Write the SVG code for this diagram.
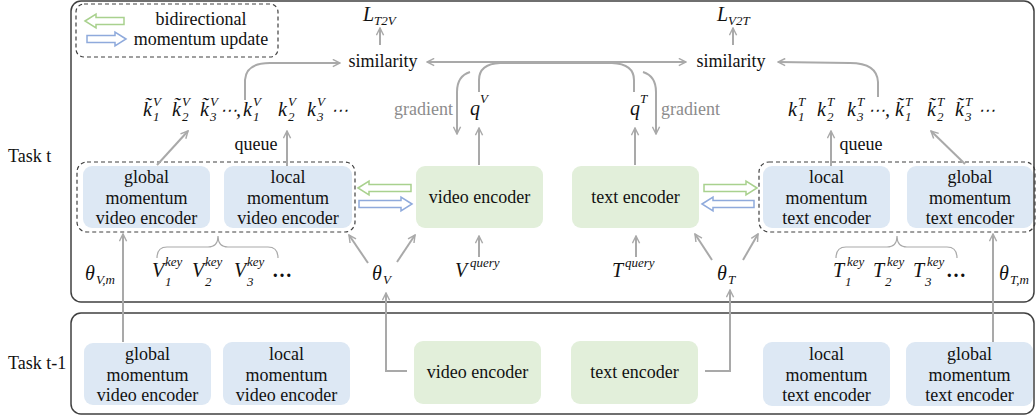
<svg xmlns="http://www.w3.org/2000/svg" width="1036" height="417" viewBox="0 0 1036 417">
<style>
.t{font-family:'Liberation Serif','DejaVu Serif',serif;font-size:18px;fill:#111}
.c{text-anchor:middle}
.g{fill:#8c8c8c}
.m{font-family:'Liberation Serif','DejaVu Serif',serif;font-style:italic;font-size:20px;fill:#111}
.s{font-size:13px}
.blue{fill:#dde8f4}
.green{fill:#e2efda}
.panel{fill:none;stroke:#404040;stroke-width:1.5}
.dash{fill:none;stroke:#404040;stroke-width:1.2;stroke-dasharray:4 3}
.ln{fill:none;stroke:#a9a9a9;stroke-width:2}
.br{fill:none;stroke:#a9a9a9;stroke-width:1.2}
.ga{fill:#fff;stroke:#a9d18e;stroke-width:1.5}
.ba{fill:#fff;stroke:#8faadc;stroke-width:1.5}
</style>
<defs>
<marker id="ah" viewBox="0 0 10 10" refX="9" refY="5" markerWidth="9" markerHeight="9" markerUnits="userSpaceOnUse" orient="auto"><path d="M1,1 L9,5 L1,9" fill="none" stroke="#a9a9a9" stroke-width="1.6"/></marker>
<marker id="ahs" viewBox="0 0 10 10" refX="1" refY="5" markerWidth="9" markerHeight="9" markerUnits="userSpaceOnUse" orient="auto"><path d="M9,1 L1,5 L9,9" fill="none" stroke="#a9a9a9" stroke-width="1.6"/></marker>
</defs>

<!-- panels -->
<rect class="panel" x="71" y="1" width="963" height="301" rx="10"/>
<rect class="panel" x="71" y="313" width="963" height="101" rx="10"/>
<text class="t" x="8" y="162">Task t</text>
<text class="t" x="8" y="369">Task t-1</text>

<!-- legend -->
<g id="legend">
<rect class="dash" x="76" y="4" width="202" height="53" rx="8"/>
<path class="ga" d="M85,21 L96,14 L96,17.5 L124,17.5 L124,24.5 L96,24.5 L96,28 Z"/>
<path class="ba" d="M126,39 L115,32 L115,35.5 L87,35.5 L87,42.5 L115,42.5 L115,46 Z"/>
<text class="t c" x="201" y="25">bidirectional</text>
<text class="t c" x="201" y="45">momentum update</text>
</g>

<!-- task t nodes -->
<g id="vid-group"><rect class="dash" x="77" y="162" width="278" height="70" rx="10"/></g>
<g id="txt-group"><rect class="dash" x="759" y="162" width="276" height="70" rx="10"/></g>
<g id="gmv-t"><rect class="blue" x="83" y="166" width="127" height="62" rx="9"/>
<text class="t c" x="146.5" y="183">global</text><text class="t c" x="146.5" y="204">momentum</text><text class="t c" x="146.5" y="224">video encoder</text></g>
<g id="lmv-t"><rect class="blue" x="224" y="166" width="128" height="62" rx="9"/>
<text class="t c" x="288" y="183">local</text><text class="t c" x="288" y="204">momentum</text><text class="t c" x="288" y="224">video encoder</text></g>
<g id="ve-t"><rect class="green" x="416" y="166" width="127" height="62" rx="9"/>
<text class="t c" x="479.5" y="203">video encoder</text></g>
<g id="te-t"><rect class="green" x="572" y="166" width="127" height="62" rx="9"/>
<text class="t c" x="635.5" y="203">text encoder</text></g>
<g id="lmt-t"><rect class="blue" x="763" y="166" width="127" height="62" rx="9"/>
<text class="t c" x="826.5" y="183">local</text><text class="t c" x="826.5" y="204">momentum</text><text class="t c" x="826.5" y="224">text encoder</text></g>
<g id="gmt-t"><rect class="blue" x="907" y="166" width="126" height="62" rx="9"/>
<text class="t c" x="970" y="183">global</text><text class="t c" x="970" y="204">momentum</text><text class="t c" x="970" y="224">text encoder</text></g>

<!-- task t-1 nodes -->
<g id="gmv-p"><rect class="blue" x="84" y="343" width="127" height="62" rx="9"/>
<text class="t c" x="147.5" y="360">global</text><text class="t c" x="147.5" y="381">momentum</text><text class="t c" x="147.5" y="401">video encoder</text></g>
<g id="lmv-p"><rect class="blue" x="223" y="342" width="127" height="63" rx="9"/>
<text class="t c" x="286.5" y="360">local</text><text class="t c" x="286.5" y="381">momentum</text><text class="t c" x="286.5" y="401">video encoder</text></g>
<g id="ve-p"><rect class="green" x="414" y="341" width="127" height="63" rx="9"/>
<text class="t c" x="477.5" y="378">video encoder</text></g>
<g id="te-p"><rect class="green" x="571" y="341" width="127" height="63" rx="9"/>
<text class="t c" x="634.5" y="378">text encoder</text></g>
<g id="lmt-p"><rect class="blue" x="763" y="342" width="127" height="64" rx="9"/>
<text class="t c" x="826.5" y="360">local</text><text class="t c" x="826.5" y="381">momentum</text><text class="t c" x="826.5" y="401">text encoder</text></g>
<g id="gmt-p"><rect class="blue" x="906" y="342" width="127" height="64" rx="9"/>
<text class="t c" x="969.5" y="360">global</text><text class="t c" x="969.5" y="381">momentum</text><text class="t c" x="969.5" y="401">text encoder</text></g>

<!-- labels -->
<g id="labels">
<text class="t c" x="383" y="67">similarity</text>
<text class="t c" x="731" y="67">similarity</text>
<text class="m" x="363" y="21">L<tspan class="s" x="374" y="25">T2V</tspan></text>
<text class="m" x="717" y="21">L<tspan class="s" x="728" y="25">V2T</tspan></text>
<text class="t g" x="453" y="115" text-anchor="end">gradient</text>
<text class="t g" x="661" y="115">gradient</text>
<text class="m" x="470" y="115">q<tspan class="s" x="480" y="103">V</tspan></text>
<text class="m" x="630" y="115">q<tspan class="s" x="640" y="103">T</tspan></text>
<text class="t c" x="256" y="150">queue</text>
<text class="t c" x="861" y="150">queue</text>
<text class="m"><tspan x="143" y="116">k̃</tspan><tspan class="s" x="153" y="106">V</tspan><tspan class="s" x="153" y="121">1</tspan><tspan x="172" y="116">k̃</tspan><tspan class="s" x="182" y="106">V</tspan><tspan class="s" x="182" y="121">2</tspan><tspan x="200" y="116">k̃</tspan><tspan class="s" x="210" y="106">V</tspan><tspan class="s" x="210" y="121">3</tspan><tspan x="220" y="116" font-size="17">⋯</tspan><tspan x="236" y="116">,</tspan><tspan x="243" y="116">k</tspan><tspan class="s" x="253" y="106">V</tspan><tspan class="s" x="253" y="121">1</tspan><tspan x="278" y="116">k</tspan><tspan class="s" x="288" y="106">V</tspan><tspan class="s" x="288" y="121">2</tspan><tspan x="307" y="116">k</tspan><tspan class="s" x="317" y="106">V</tspan><tspan class="s" x="317" y="121">3</tspan><tspan x="331" y="116" font-size="17">⋯</tspan></text>
<text class="m"><tspan x="788" y="116">k</tspan><tspan class="s" x="798" y="106">T</tspan><tspan class="s" x="798" y="121">1</tspan><tspan x="817" y="116">k</tspan><tspan class="s" x="827" y="106">T</tspan><tspan class="s" x="827" y="121">2</tspan><tspan x="847" y="116">k</tspan><tspan class="s" x="857" y="106">T</tspan><tspan class="s" x="857" y="121">3</tspan><tspan x="868" y="116" font-size="17">⋯</tspan><tspan x="885" y="116">,</tspan><tspan x="895" y="116">k̃</tspan><tspan class="s" x="905" y="106">T</tspan><tspan class="s" x="905" y="121">1</tspan><tspan x="927" y="116">k̃</tspan><tspan class="s" x="937" y="106">T</tspan><tspan class="s" x="937" y="121">2</tspan><tspan x="955" y="116">k̃</tspan><tspan class="s" x="965" y="106">T</tspan><tspan class="s" x="965" y="121">3</tspan><tspan x="978" y="116" font-size="17">⋯</tspan></text>
<text class="m"><tspan x="152" y="277">V</tspan><tspan class="s" x="165" y="266">key</tspan><tspan class="s" x="165" y="286">1</tspan><tspan x="192" y="277">V</tspan><tspan class="s" x="205" y="266">key</tspan><tspan class="s" x="205" y="286">2</tspan><tspan x="234" y="277">V</tspan><tspan class="s" x="247" y="266">key</tspan><tspan class="s" x="247" y="286">3</tspan><tspan x="272" y="277" font-style="normal" font-weight="bold">…</tspan></text>
<text class="m"><tspan x="833" y="277">T</tspan><tspan class="s" x="847" y="266">key</tspan><tspan class="s" x="845" y="286">1</tspan><tspan x="873" y="277">T</tspan><tspan class="s" x="887" y="266">key</tspan><tspan class="s" x="885" y="286">2</tspan><tspan x="913" y="277">T</tspan><tspan class="s" x="927" y="266">key</tspan><tspan class="s" x="925" y="286">3</tspan><tspan x="946" y="277" font-style="normal" font-weight="bold">…</tspan></text>
<text class="m" x="85" y="280">θ<tspan class="s" x="96" y="284">V,m</tspan></text>
<text class="m" x="372" y="280">θ<tspan class="s" x="383" y="284">V</tspan></text>
<text class="m" x="717" y="280">θ<tspan class="s" x="728" y="284">T</tspan></text>
<text class="m" x="999" y="280">θ<tspan class="s" x="1010" y="284">T,m</tspan></text>
<text class="m" x="455" y="277">V<tspan class="s" x="470" y="267">query</tspan></text>
<text class="m" x="612" y="277">T<tspan class="s" x="625" y="267">query</tspan></text>
</g>

<!-- connectors -->
<g id="connectors">
<path class="ln" d="M380,45 L380,28" marker-end="url(#ah)"/>
<path class="ln" d="M733,45 L733,28" marker-end="url(#ah)"/>
<path class="ln" d="M427,62 L686,62" marker-start="url(#ahs)" marker-end="url(#ah)"/>
<path class="ln" d="M479,92 L479,80 Q479,64 500,63 L612,63 Q634,64 634,80 L634,92"/>
<path class="ln" d="M470,72 Q457,76 457,92 L457,134" marker-end="url(#ah)"/>
<path class="ln" d="M643,72 Q656,76 656,92 L656,134" marker-end="url(#ah)"/>
<path class="ln" d="M245,100 L245,80 Q246,63 270,63 L340,63" marker-end="url(#ah)"/>
<path class="ln" d="M878,97 L878,82 Q877,63 850,63 L778,62" marker-end="url(#ah)"/>
<path class="ln" d="M479,165 L479,128" marker-end="url(#ah)"/>
<path class="ln" d="M635,165 L635,128" marker-end="url(#ah)"/>
<path class="ln" d="M479,257 L479,236" marker-end="url(#ah)"/>
<path class="ln" d="M636,257 L636,236" marker-end="url(#ah)"/>
<path class="ln" d="M157,165 L188,131" marker-end="url(#ah)"/>
<path class="ln" d="M287,166 L287,131" marker-end="url(#ah)"/>
<path class="ln" d="M831,166 L831,131" marker-end="url(#ah)"/>
<path class="ln" d="M965,164 L931,131" marker-end="url(#ah)"/>
<path class="ln" d="M123,342 L123,234" marker-end="url(#ah)"/>
<path class="ln" d="M993,342 L993,234" marker-end="url(#ah)"/>
<path class="ln" d="M407,371 L386,371 L386,293" marker-end="url(#ah)"/>
<path class="ln" d="M705,371 L730,371 L730,290" marker-end="url(#ah)"/>
<path class="ln" d="M368,263 L349,235" marker-end="url(#ah)"/>
<path class="ln" d="M397,262 L415,235" marker-end="url(#ah)"/>
<path class="ln" d="M712,260 L695,234" marker-end="url(#ah)"/>
<path class="ln" d="M743,260 L758,234" marker-end="url(#ah)"/>
<path class="br" d="M157,258 Q157,247 167,247 L208,247 Q218,247 218,236 Q218,247 228,247 L268,247 Q278,247 278,258"/>
<path class="br" d="M836,258 Q836,247 846,247 L887,247 Q897,247 897,236 Q897,247 907,247 L947,247 Q957,247 957,258"/>
<path class="ga" d="M358,188 L369,181 L369,184.5 L411,184.5 L411,191.5 L369,191.5 L369,195 Z"/>
<path class="ba" d="M412,204 L401,197 L401,200.5 L359,200.5 L359,207.5 L401,207.5 L401,211 Z"/>
<path class="ga" d="M757,188 L746,181 L746,184.5 L704,184.5 L704,191.5 L746,191.5 L746,195 Z"/>
<path class="ba" d="M702,204 L713,197 L713,200.5 L754,200.5 L754,207.5 L713,207.5 L713,211 Z"/>
</g>
</svg>
